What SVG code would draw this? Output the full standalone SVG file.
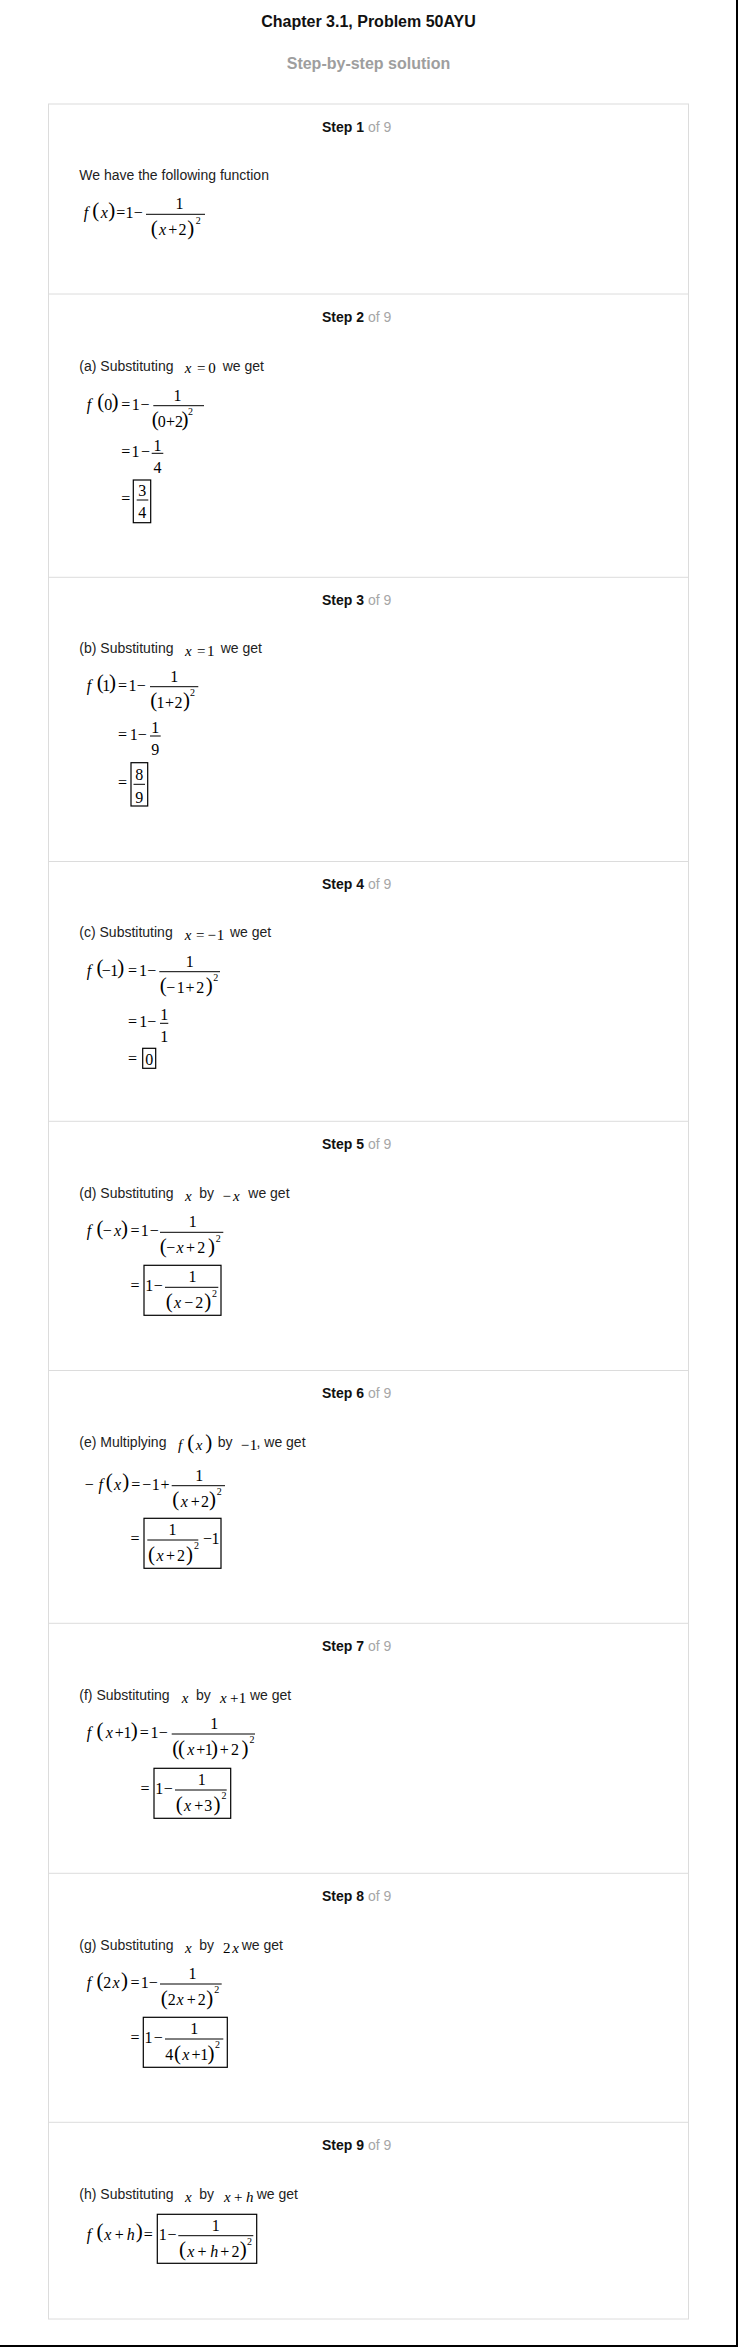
<svg xmlns="http://www.w3.org/2000/svg" width="738" height="2347" viewBox="0 0 738 2347">
<style>
.bg{fill:#fff}
.h{font-family:"Liberation Sans",Arial,sans-serif;font-size:16px;font-weight:bold;fill:#111;text-anchor:middle}
.sub{font-family:"Liberation Sans",Arial,sans-serif;font-size:16px;font-weight:bold;fill:#9e9e9e;text-anchor:middle}
.sl{font-family:"Liberation Sans",Arial,sans-serif;font-size:14px;fill:#111}
.b{font-weight:bold}
.g{fill:#a6a6a6}
.t{font-family:"Liberation Sans",Arial,sans-serif;font-size:14px;fill:#222}
.m{font-family:"Liberation Serif","Times New Roman",serif;font-size:16px;fill:#000;text-anchor:middle}
.mi{font-size:15px}
.i{font-style:italic}
.p{font-size:21px}
.s{font-size:10px}
.bar{stroke:#000;stroke-width:1}
.box{fill:none;stroke:#000;stroke-width:1.2}
.frame{fill:none;stroke:#dcdcdc;stroke-width:1}
.div{stroke:#dcdcdc;stroke-width:1}
.edge{stroke:#000;stroke-width:2}
</style>
<rect class="bg" x="0" y="0" width="738" height="2347"/>
<g id="header">
<text class="h" x="368.5" y="27">Chapter 3.1, Problem 50AYU</text>
<text class="sub" x="368.5" y="69">Step-by-step solution</text>
</g>
<g id="panel">
<rect class="frame" x="48.5" y="104" width="640" height="2215"/>
<line class="div" x1="48.5" y1="294" x2="688.5" y2="294"/>
<line class="div" x1="48.5" y1="577.3" x2="688.5" y2="577.3"/>
<line class="div" x1="48.5" y1="861.5" x2="688.5" y2="861.5"/>
<line class="div" x1="48.5" y1="1121.3" x2="688.5" y2="1121.3"/>
<line class="div" x1="48.5" y1="1370.5" x2="688.5" y2="1370.5"/>
<line class="div" x1="48.5" y1="1623.3" x2="688.5" y2="1623.3"/>
<line class="div" x1="48.5" y1="1873.3" x2="688.5" y2="1873.3"/>
<line class="div" x1="48.5" y1="2122.3" x2="688.5" y2="2122.3"/>
</g>
<g id="edges">
<line class="edge" x1="737" y1="0" x2="737" y2="2347"/>
<line class="edge" x1="0" y1="2346" x2="738" y2="2346"/>
</g>

<g id="step1">
<text class="sl" x="322" y="131.5"><tspan class="b">Step 1</tspan><tspan class="g"> of 9</tspan></text>
<text class="t" x="79.3" y="180">We have the following function</text>
<text class="m" y="218.3"><tspan class="i" x="86">f</tspan><tspan class="i" x="104.2">x</tspan><tspan x="120.8">=</tspan><tspan x="129.5">1</tspan><tspan x="138.3">−</tspan></text>
<text class="m p" y="216.8"><tspan x="95.8">(</tspan><tspan x="111.7">)</tspan></text>
<line class="bar" x1="146" y1="214.3" x2="205" y2="214.3"/>
<text class="m" x="179.5" y="209.3">1</text>
<text class="m" y="235.3"><tspan class="i" x="162.5">x</tspan><tspan x="172.8">+</tspan><tspan x="182.5">2</tspan></text>
<text class="m p" y="234.8"><tspan x="154.2">(</tspan><tspan x="190.8">)</tspan></text>
<text class="m s" x="198.2" y="223.6">2</text>
</g>

<g id="step2">
<text class="sl" x="322" y="321.5"><tspan class="b">Step 2</tspan><tspan class="g"> of 9</tspan></text>
<text class="t" x="79.3" y="370.7">(a) Substituting</text>
<text class="m mi" y="373.3"><tspan class="i" x="188.2">x</tspan><tspan x="201.2">=</tspan><tspan x="212">0</tspan></text>
<text class="t" x="222.7" y="370.7">we get</text>
<text class="m" y="409.7"><tspan class="i" x="89">f</tspan><tspan x="108.3">0</tspan><tspan x="125.8">=</tspan><tspan x="135.8">1</tspan><tspan x="145">−</tspan></text>
<text class="m p" y="408.2"><tspan x="100.8">(</tspan><tspan x="115">)</tspan></text>
<line class="bar" x1="153.3" y1="405.7" x2="204" y2="405.7"/>
<text class="m" x="177.5" y="400.7">1</text>
<text class="m" y="426.7"><tspan x="161.7">0</tspan><tspan x="170.5">+</tspan><tspan x="179">2</tspan></text>
<text class="m p" y="426.2"><tspan x="155.3">(</tspan><tspan x="185">)</tspan></text>
<text class="m s" x="190.5" y="415">2</text>
<text class="m" y="457.3"><tspan x="125.8">=</tspan><tspan x="135.5">1</tspan><tspan x="145.5">−</tspan></text>
<line class="bar" x1="151.7" y1="453.3" x2="163.3" y2="453.3"/>
<text class="m" x="157.5" y="450.5">1</text>
<text class="m" x="157.5" y="472.5">4</text>
<text class="m" x="125.8" y="504">=</text>
<rect class="box" x="133.3" y="480" width="17.4" height="42.7"/>
<line class="bar" x1="136.7" y1="500" x2="148.3" y2="500"/>
<text class="m" x="142.3" y="496">3</text>
<text class="m" x="142.3" y="518.3">4</text>
</g>

<g id="step3">
<text class="sl" x="322" y="604.8"><tspan class="b">Step 3</tspan><tspan class="g"> of 9</tspan></text>
<text class="t" x="79.3" y="653.3">(b) Substituting</text>
<text class="m mi" y="656"><tspan class="i" x="188.3">x</tspan><tspan x="201.2">=</tspan><tspan x="210.8">1</tspan></text>
<text class="t" x="220.7" y="653.3">we get</text>
<text class="m" y="690.7"><tspan class="i" x="89">f</tspan><tspan x="106.2">1</tspan><tspan x="122.5">=</tspan><tspan x="132.5">1</tspan><tspan x="141.3">−</tspan></text>
<text class="m p" y="689.2"><tspan x="100.3">(</tspan><tspan x="112.5">)</tspan></text>
<line class="bar" x1="150" y1="686.7" x2="198.3" y2="686.7"/>
<text class="m" x="174.2" y="681.7">1</text>
<text class="m" y="707.7"><tspan x="160.5">1</tspan><tspan x="169.5">+</tspan><tspan x="178.5">2</tspan></text>
<text class="m p" y="707.2"><tspan x="153.8">(</tspan><tspan x="186.5">)</tspan></text>
<text class="m s" x="192.5" y="696">2</text>
<text class="m" y="740"><tspan x="122.5">=</tspan><tspan x="133.8">1</tspan><tspan x="142.3">−</tspan></text>
<line class="bar" x1="150" y1="736" x2="160.7" y2="736"/>
<text class="m" x="155.3" y="733.3">1</text>
<text class="m" x="155.3" y="755.3">9</text>
<text class="m" x="122.5" y="788.3">=</text>
<rect class="box" x="131" y="762.7" width="16.7" height="43.3"/>
<line class="bar" x1="133.5" y1="784.3" x2="145" y2="784.3"/>
<text class="m" x="139.3" y="780.3">8</text>
<text class="m" x="139.3" y="802.5">9</text>
</g>

<g id="step4">
<text class="sl" x="322" y="889"><tspan class="b">Step 4</tspan><tspan class="g"> of 9</tspan></text>
<text class="t" x="79.3" y="937.3">(c) Substituting</text>
<text class="m mi" y="940"><tspan class="i" x="188">x</tspan><tspan x="200.3">=</tspan><tspan x="211.7">−</tspan><tspan x="220.5">1</tspan></text>
<text class="t" x="230" y="937.3">we get</text>
<text class="m" y="975.7"><tspan class="i" x="89">f</tspan><tspan x="106.3">−</tspan><tspan x="114.2">1</tspan><tspan x="132.5">=</tspan><tspan x="143">1</tspan><tspan x="151.7">−</tspan></text>
<text class="m p" y="974.2"><tspan x="100">(</tspan><tspan x="120.8">)</tspan></text>
<line class="bar" x1="159.3" y1="971.7" x2="220" y2="971.7"/>
<text class="m" x="189.7" y="966.7">1</text>
<text class="m" y="992.7"><tspan x="170.8">−</tspan><tspan x="180.8">1</tspan><tspan x="190">+</tspan><tspan x="200.3">2</tspan></text>
<text class="m p" y="992.2"><tspan x="163.3">(</tspan><tspan x="209.2">)</tspan></text>
<text class="m s" x="215.8" y="981">2</text>
<text class="m" y="1027.3"><tspan x="132.5">=</tspan><tspan x="143.3">1</tspan><tspan x="151.7">−</tspan></text>
<line class="bar" x1="160" y1="1023.3" x2="168.3" y2="1023.3"/>
<text class="m" x="164.2" y="1020.3">1</text>
<text class="m" x="164.2" y="1041.5">1</text>
<text class="m" x="132.5" y="1064">=</text>
<rect class="box" x="142.7" y="1048.3" width="13" height="20"/>
<text class="m" x="149.2" y="1065">0</text>
</g>

<g id="step5">
<text class="sl" x="322" y="1148.8"><tspan class="b">Step 5</tspan><tspan class="g"> of 9</tspan></text>
<text class="t" x="79.3" y="1198.3">(d) Substituting</text>
<text class="m mi i" x="188.3" y="1201">x</text>
<text class="t" x="199.3" y="1198.3">by</text>
<text class="m mi" y="1201"><tspan x="226.7">−</tspan><tspan class="i" x="236.3">x</tspan></text>
<text class="t" x="248.3" y="1198.3">we get</text>
<text class="m" y="1236.3"><tspan class="i" x="89">f</tspan><tspan x="107.2">−</tspan><tspan class="i" x="117.5">x</tspan><tspan x="135">=</tspan><tspan x="144.7">1</tspan><tspan x="154.2">−</tspan></text>
<text class="m p" y="1234.8"><tspan x="100">(</tspan><tspan x="124.5">)</tspan></text>
<line class="bar" x1="160" y1="1232.3" x2="223.3" y2="1232.3"/>
<text class="m" x="192.7" y="1227.3">1</text>
<text class="m" y="1253.3"><tspan x="170.8">−</tspan><tspan class="i" x="180">x</tspan><tspan x="190.5">+</tspan><tspan x="201.2">2</tspan></text>
<text class="m p" y="1252.8"><tspan x="163.3">(</tspan><tspan x="211.5">)</tspan></text>
<text class="m s" x="218.3" y="1241.6">2</text>
<text class="m" x="135" y="1291.3">=</text>
<rect class="box" x="144" y="1265.3" width="77" height="50"/>
<text class="m" y="1291.3"><tspan x="149.2">1</tspan><tspan x="158.3">−</tspan></text>
<line class="bar" x1="165" y1="1287.3" x2="218.3" y2="1287.3"/>
<text class="m" x="192.5" y="1282.3">1</text>
<text class="m" y="1308.3"><tspan class="i" x="177.5">x</tspan><tspan x="188.7">−</tspan><tspan x="199.3">2</tspan></text>
<text class="m p" y="1307.8"><tspan x="169.2">(</tspan><tspan x="207.8">)</tspan></text>
<text class="m s" x="214.5" y="1296.6">2</text>
</g>

<g id="step6">
<text class="sl" x="322" y="1398"><tspan class="b">Step 6</tspan><tspan class="g"> of 9</tspan></text>
<text class="t" x="79.3" y="1447.3">(e) Multiplying</text>
<text class="m mi" y="1450"><tspan class="i" x="180">f</tspan><tspan class="i" x="199.2">x</tspan></text>
<text class="m p" y="1449"><tspan x="190.8">(</tspan><tspan x="208.8">)</tspan></text>
<text class="t" x="217.7" y="1447.3">by</text>
<text class="m mi" y="1450"><tspan x="245">−</tspan><tspan x="253.5">1</tspan></text>
<text class="t" x="256.5" y="1447.3">, we get</text>
<text class="m" y="1489.7"><tspan x="89.2">−</tspan><tspan class="i" x="100.8">f</tspan><tspan class="i" x="117.5">x</tspan><tspan x="135.8">=</tspan><tspan x="146.7">−</tspan><tspan x="155.8">1</tspan><tspan x="165">+</tspan></text>
<text class="m p" y="1488.2"><tspan x="109.2">(</tspan><tspan x="125.8">)</tspan></text>
<line class="bar" x1="171.7" y1="1485.7" x2="225" y2="1485.7"/>
<text class="m" x="199.2" y="1480.7">1</text>
<text class="m" y="1506.7"><tspan class="i" x="184.2">x</tspan><tspan x="195.3">+</tspan><tspan x="205">2</tspan></text>
<text class="m p" y="1506.2"><tspan x="175.8">(</tspan><tspan x="212.5">)</tspan></text>
<text class="m s" x="219.2" y="1495">2</text>
<text class="m" x="135" y="1544">=</text>
<rect class="box" x="144" y="1518.3" width="77" height="50"/>
<line class="bar" x1="147.3" y1="1540" x2="198.3" y2="1540"/>
<text class="m" x="172.5" y="1535">1</text>
<text class="m" y="1561"><tspan class="i" x="160">x</tspan><tspan x="170.5">+</tspan><tspan x="181">2</tspan></text>
<text class="m p" y="1560.5"><tspan x="151.5">(</tspan><tspan x="189.5">)</tspan></text>
<text class="m s" x="196.5" y="1549.3">2</text>
<text class="m" y="1544"><tspan x="207.5">−</tspan><tspan x="215.5">1</tspan></text>
</g>

<g id="step7">
<text class="sl" x="322" y="1650.8"><tspan class="b">Step 7</tspan><tspan class="g"> of 9</tspan></text>
<text class="t" x="79.3" y="1700">(f) Substituting</text>
<text class="m mi i" x="185" y="1702.7">x</text>
<text class="t" x="196" y="1700">by</text>
<text class="m mi" y="1702.7"><tspan class="i" x="223.3">x</tspan><tspan x="234.2">+</tspan><tspan x="242.5">1</tspan></text>
<text class="t" x="250" y="1700">we get</text>
<text class="m" y="1738"><tspan class="i" x="89">f</tspan><tspan class="i" x="109.2">x</tspan><tspan x="119.2">+</tspan><tspan x="127.5">1</tspan><tspan x="144.2">=</tspan><tspan x="154.5">1</tspan><tspan x="163.3">−</tspan></text>
<text class="m p" y="1736.5"><tspan x="100">(</tspan><tspan x="134.2">)</tspan></text>
<line class="bar" x1="171.7" y1="1734" x2="255" y2="1734"/>
<text class="m" x="214.2" y="1729">1</text>
<text class="m" y="1755"><tspan class="i" x="190.8">x</tspan><tspan x="200.8">+</tspan><tspan x="208.7">1</tspan><tspan x="224.2">+</tspan><tspan x="235">2</tspan></text>
<text class="m p" y="1754.5"><tspan x="175.8">(</tspan><tspan x="181.5">(</tspan><tspan x="214.5">)</tspan><tspan x="245">)</tspan></text>
<text class="m s" x="252" y="1743.3">2</text>
<text class="m" x="145" y="1794">=</text>
<rect class="box" x="154" y="1768.3" width="76.7" height="50"/>
<text class="m" y="1794"><tspan x="159.2">1</tspan><tspan x="168.3">−</tspan></text>
<line class="bar" x1="175" y1="1790" x2="226.7" y2="1790"/>
<text class="m" x="201.8" y="1785">1</text>
<text class="m" y="1811"><tspan class="i" x="187.5">x</tspan><tspan x="198.7">+</tspan><tspan x="208.3">3</tspan></text>
<text class="m p" y="1810.5"><tspan x="179.2">(</tspan><tspan x="217">)</tspan></text>
<text class="m s" x="224" y="1799.3">2</text>
</g>

<g id="step8">
<text class="sl" x="322" y="1900.8"><tspan class="b">Step 8</tspan><tspan class="g"> of 9</tspan></text>
<text class="t" x="79.3" y="1950">(g) Substituting</text>
<text class="m mi i" x="188.3" y="1952.7">x</text>
<text class="t" x="199.3" y="1950">by</text>
<text class="m mi" y="1952.7"><tspan x="226.7">2</tspan><tspan class="i" x="235.5">x</tspan></text>
<text class="t" x="241.7" y="1950">we get</text>
<text class="m" y="1988"><tspan class="i" x="89">f</tspan><tspan x="107.3">2</tspan><tspan class="i" x="116">x</tspan><tspan x="135">=</tspan><tspan x="144.7">1</tspan><tspan x="153.3">−</tspan></text>
<text class="m p" y="1986.5"><tspan x="100">(</tspan><tspan x="124.5">)</tspan></text>
<line class="bar" x1="160" y1="1984" x2="221.7" y2="1984"/>
<text class="m" x="192.5" y="1979">1</text>
<text class="m" y="2005"><tspan x="171.7">2</tspan><tspan class="i" x="180">x</tspan><tspan x="191.3">+</tspan><tspan x="201.7">2</tspan></text>
<text class="m p" y="2004.5"><tspan x="164.2">(</tspan><tspan x="209.7">)</tspan></text>
<text class="m s" x="216.7" y="1993.3">2</text>
<text class="m" x="135" y="2043">=</text>
<rect class="box" x="143.3" y="2017.3" width="84" height="50"/>
<text class="m" y="2043"><tspan x="148.5">1</tspan><tspan x="158.3">−</tspan></text>
<line class="bar" x1="165" y1="2039" x2="223.3" y2="2039"/>
<text class="m" x="194.2" y="2034">1</text>
<text class="m" y="2060"><tspan x="169.3">4</tspan><tspan class="i" x="185.8">x</tspan><tspan x="196">+</tspan><tspan x="204.2">1</tspan></text>
<text class="m p" y="2059.5"><tspan x="177.5">(</tspan><tspan x="211">)</tspan></text>
<text class="m s" x="217.5" y="2048.3">2</text>
</g>

<g id="step9">
<text class="sl" x="322" y="2149.8"><tspan class="b">Step 9</tspan><tspan class="g"> of 9</tspan></text>
<text class="t" x="79.3" y="2199">(h) Substituting</text>
<text class="m mi i" x="188.3" y="2201.7">x</text>
<text class="t" x="199.3" y="2199">by</text>
<text class="m mi" y="2201.7"><tspan class="i" x="227.3">x</tspan><tspan x="238.2">+</tspan><tspan class="i" x="249.7">h</tspan></text>
<text class="t" x="256.7" y="2199">we get</text>
<text class="m" y="2239.7"><tspan class="i" x="89">f</tspan><tspan class="i" x="107.8">x</tspan><tspan x="119.2">+</tspan><tspan class="i" x="130.8">h</tspan><tspan x="148.3">=</tspan></text>
<text class="m p" y="2238.2"><tspan x="100">(</tspan><tspan x="139.2">)</tspan></text>
<rect class="box" x="157.3" y="2214.3" width="99.4" height="49"/>
<text class="m" y="2239.7"><tspan x="162.8">1</tspan><tspan x="172">−</tspan></text>
<line class="bar" x1="178.3" y1="2235.7" x2="253.3" y2="2235.7"/>
<text class="m" x="215.8" y="2230.7">1</text>
<text class="m" y="2256.7"><tspan class="i" x="190.8">x</tspan><tspan x="202">+</tspan><tspan class="i" x="214.2">h</tspan><tspan x="224.7">+</tspan><tspan x="235.5">2</tspan></text>
<text class="m p" y="2256.2"><tspan x="182.5">(</tspan><tspan x="243.3">)</tspan></text>
<text class="m s" x="249.5" y="2245">2</text>
</g>
</svg>
